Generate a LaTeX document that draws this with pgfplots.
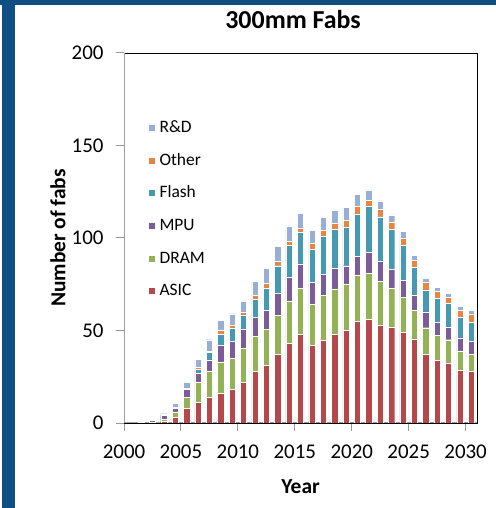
\documentclass[border=0pt]{standalone}
\usepackage{fontspec}
\setmainfont{Carlito}
\usepackage{pgfplots}
\pgfplotsset{compat=1.18}
\usepackage{pgfplotstable}
\definecolor{asic}{HTML}{B5484A}
\definecolor{dram}{HTML}{93B155}
\definecolor{mpu}{HTML}{7B5C98}
\definecolor{flash}{HTML}{4599B2}
\definecolor{other}{HTML}{E8853F}
\definecolor{rnd}{HTML}{97AED7}
\definecolor{band}{HTML}{0F4F84}
\pgfplotstableread{
year asic dram mpu flash other rd
2001 0 0 0 0 0 0.6
2002 0 0.5 1 0 0 0.5
2003 1 1 2 0 0 1
2004 3 3 2 0.5 0 2
2005 8 6 4 1 0 3
2006 11 11 5 2 1 4.5
2007 14 14 6 4 1 6
2008 16 17 9 6 2 5.5
2009 18 17 9 7 2 6
2010 22 18.5 10 8 1.5 6
2011 28 19 10 10 2 7.5
2012 31 19.5 10.5 12 2.5 8
2013 37 21 12 15 2.5 8
2014 43 23 13 17 2.5 8
2015 48 25 13 17 2.5 8
2016 42 22 12 18 3 7
2017 45 24 11.5 20.5 3 7
2018 48 24.5 11 21 3.5 7
2019 50 25 10 21 3.5 7
2020 55 25 10 23 4 6.5
2021 56 25 11.5 24.5 3.5 5.5
2022 53 23.5 11 24 4 4.5
2023 52 21 10 21.5 4 4
2024 49 19 9 19 4 3.5
2025 45.5 15.5 8 15 4 2.5
2026 37 14.5 8.5 12 4 2.5
2027 34 13.5 7 13 3.5 2.5
2028 32.5 12.5 7 12.5 3.5 2
2029 28.5 10.5 7 11 4 2
2030 28 9 7 10.5 4.5 2
}\fabs
\begin{document}
\begin{tikzpicture}
\useasboundingbox (0,0) rectangle (496bp,508bp);
\fill[white] (0,0) rectangle (496bp,508bp);
\fill[band] (2bp,0) rectangle (15bp,508bp);
\fill[band] (0,503bp) rectangle (496bp,508bp);
\begin{axis}[
  at={(124bp,85bp)}, anchor=south west,
  width=353bp, height=370bp, scale only axis,
  xmin=2000, xmax=2031, ymin=0, ymax=200,
  xtick={2000,2005,...,2030}, ytick={0,50,...,200},
  tick align=outside, tick pos=left,
  major tick length=8bp,
  tick style={gray!80, line width=1bp},
  /pgf/number format/1000 sep={},
  /pgf/number format/assume math mode=true,
  ticklabel style={font=\fontsize{21}{24}\selectfont},
  xticklabel style={yshift=-10bp},
  yticklabel style={xshift=-9bp},
  axis line style={black, line width=0.8bp},
  ybar stacked, bar width=0.55,
  title={300mm Fabs},
  title style={at={(axis description cs:0.479,1.0757)}, anchor=center, font=\bfseries\fontsize{26}{30}\selectfont},
  xlabel={Year},
  xlabel style={at={(axis description cs:0.5,-0.172)}, anchor=center, font=\bfseries\fontsize{21.5}{25}\selectfont},
  ylabel={Number of fabs},
  ylabel style={at={(axis description cs:-0.187,0.5)}, anchor=center, rotate=0, font=\bfseries\fontsize{21.5}{25}\selectfont},
  reverse legend,
  legend cell align=left,
  legend image code/.code={\fill[#1, draw=none] (0bp,-3bp) rectangle (6bp,3bp);},
  legend style={at={(axis description cs:0.062,0.828)}, anchor=north west, draw=none, fill=none,
    font=\fontsize{17.5}{20}\selectfont, row sep=14.7bp, column sep=3bp,
    nodes={inner sep=1.5bp, text height=12bp, text depth=3bp}},
]
\addplot[fill=asic, draw=white, line width=0.4bp] table[x expr=\thisrow{year}+0.5, y=asic] {\fabs};
\addplot[fill=dram, draw=white, line width=0.4bp] table[x expr=\thisrow{year}+0.5, y=dram] {\fabs};
\addplot[fill=mpu, draw=white, line width=0.4bp] table[x expr=\thisrow{year}+0.5, y=mpu] {\fabs};
\addplot[fill=flash, draw=white, line width=0.4bp] table[x expr=\thisrow{year}+0.5, y=flash] {\fabs};
\addplot[fill=other, draw=white, line width=0.4bp] table[x expr=\thisrow{year}+0.5, y=other] {\fabs};
\addplot[fill=rnd, draw=white, line width=0.4bp] table[x expr=\thisrow{year}+0.5, y=rd] {\fabs};
\legend{ASIC, DRAM, MPU, Flash, Other, R\&D}
\draw[gray!75, line width=1.8bp] (rel axis cs:0,1) -- (rel axis cs:0,0) -- (rel axis cs:1,0);
\end{axis}
\end{tikzpicture}
\end{document}
